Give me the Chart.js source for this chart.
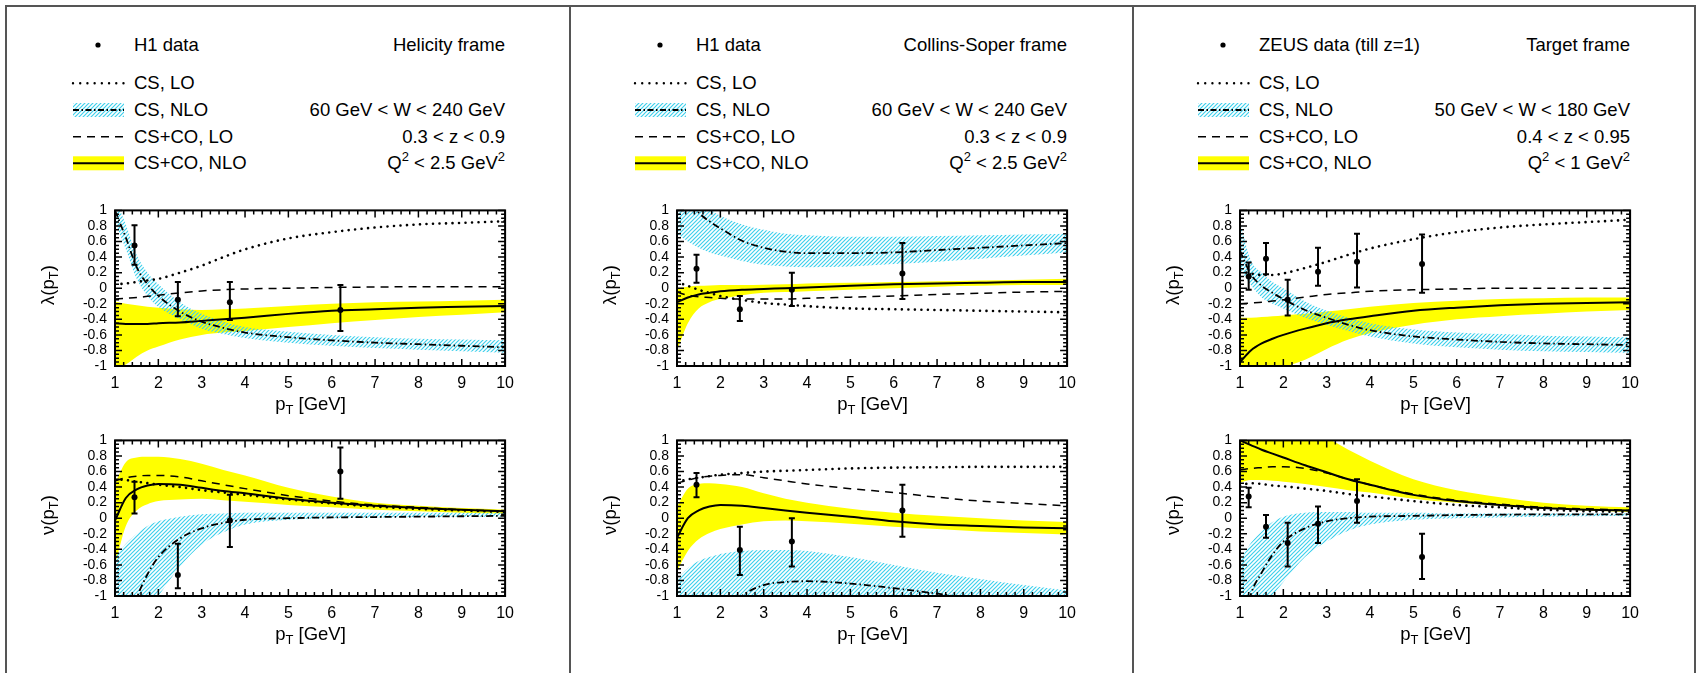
<!DOCTYPE html>
<html>
<head>
<meta charset="utf-8">
<script src="https://cdn.jsdelivr.net/npm/chart.js@4.4.1/dist/chart.umd.min.js"></script>
<style>
body { margin:0; background:#fff; width:1697px; height:673px; overflow:hidden; position:relative; font-family:"Liberation Sans", Arial, sans-serif; color:#000; }
.line { position:absolute; background:#555; }
.txt { position:absolute; font-size:18.5px; white-space:nowrap; line-height:1; transform:translateY(-50%); }
.rt { transform:translate(-100%,-50%); }
.ctr { transform:translate(-50%,-50%); }
.ylab { transform:translate(-50%,-50%) rotate(-90deg); }
sub { font-size:70%; vertical-align:-0.35em; line-height:0; }
sup { font-size:70%; vertical-align:0.6em; line-height:0; }
canvas, svg { position:absolute; }
</style>
</head>
<body>
<script>
// pT grid shared by all theory curves
const pt = [1, 1.25, 1.5, 1.75, 2, 2.5, 3, 3.5, 4, 5, 6, 7, 8, 9, 10];
const xTicks = [1, 2, 3, 4, 5, 6, 7, 8, 9, 10];
const yTicks = [-1, -0.8, -0.6, -0.4, -0.2, 0, 0.2, 0.4, 0.6, 0.8, 1];

// ---- Helicity frame (H1) ----
const hLamCsLo    = [0.05, 0.06, 0.08, 0.1, 0.12, 0.2, 0.29, 0.4, 0.5, 0.64, 0.72, 0.78, 0.82, 0.84, 0.86];
const hLamCsNlo   = [1.0, 0.65, 0.27, 0.05, -0.1, -0.3, -0.43, -0.51, -0.57, -0.63, -0.67, -0.7, -0.72, -0.74, -0.76];
const hLamCsNloHi = [1.15, 0.82, 0.43, 0.2, 0.05, -0.18, -0.33, -0.43, -0.5, -0.56, -0.6, -0.63, -0.65, -0.66, -0.67];
const hLamCsNloLo = [0.85, 0.5, 0.12, -0.1, -0.24, -0.4, -0.52, -0.59, -0.64, -0.7, -0.74, -0.77, -0.79, -0.81, -0.83];
const hLamCoLo    = [-0.14, -0.13, -0.12, -0.105, -0.09, -0.06, -0.035, -0.02, -0.01, 0.0, 0.01, 0.015, 0.02, 0.02, 0.02];
const hLamCoNlo   = [-0.45, -0.46, -0.46, -0.46, -0.45, -0.44, -0.42, -0.4, -0.38, -0.33, -0.29, -0.27, -0.25, -0.24, -0.23];
const hLamCoNloHi = [-0.17, -0.2, -0.22, -0.24, -0.25, -0.27, -0.28, -0.27, -0.26, -0.23, -0.2, -0.18, -0.17, -0.16, -0.15];
const hLamCoNloLo = [-1.05, -0.98, -0.88, -0.8, -0.75, -0.66, -0.6, -0.57, -0.55, -0.5, -0.45, -0.41, -0.37, -0.34, -0.31];
const hNuCsLo     = [0.5, 0.49, 0.47, 0.45, 0.43, 0.4, 0.36, 0.33, 0.3, 0.24, 0.19, 0.15, 0.12, 0.1, 0.08];
const hNuCsNlo    = [-2.2, -1.5, -1.03, -0.72, -0.5, -0.26, -0.13, -0.06, -0.02, 0.0, 0.01, 0.015, 0.02, 0.025, 0.03];
const hNuCsNloHi  = [-0.5, -0.33, -0.2, -0.1, -0.04, 0.02, 0.05, 0.06, 0.07, 0.07, 0.07, 0.07, 0.07, 0.07, 0.07];
const hNuCsNloLo  = [-3, -2, -1.5, -1.2, -1.0, -0.62, -0.34, -0.18, -0.08, -0.02, 0.0, 0.01, 0.015, 0.02, 0.02];
const hNuCoLo     = [0.48, 0.52, 0.54, 0.55, 0.55, 0.53, 0.48, 0.43, 0.38, 0.29, 0.22, 0.17, 0.14, 0.11, 0.09];
const hNuCoNlo    = [-0.03, 0.26, 0.37, 0.42, 0.44, 0.43, 0.39, 0.35, 0.32, 0.25, 0.2, 0.16, 0.13, 0.11, 0.09];
const hNuCoNloHi  = [0.45, 0.72, 0.78, 0.79, 0.79, 0.76, 0.7, 0.62, 0.55, 0.39, 0.28, 0.2, 0.16, 0.13, 0.11];
const hNuCoNloLo  = [-0.6, -0.1, 0.1, 0.18, 0.22, 0.24, 0.25, 0.23, 0.21, 0.17, 0.14, 0.11, 0.09, 0.07, 0.06];
const hDataPt     = [1.45, 2.45, 3.65, 6.2];
const hLamData    = [0.55, -0.15, -0.18, -0.28];
const hLamErrLo   = [0.3, -0.36, -0.41, -0.55];
const hLamErrHi   = [0.81, 0.08, 0.08, 0.04];
const hNuData     = [0.27, -0.73, -0.03, 0.6];
const hNuErrLo    = [0.06, -0.9, -0.37, 0.25];
const hNuErrHi    = [0.47, -0.33, 0.3, 0.91];

// ---- Collins-Soper frame (H1) ----
const cLamCsLo    = [0.08, 0.03, -0.02, -0.06, -0.1, -0.15, -0.19, -0.21, -0.23, -0.26, -0.27, -0.28, -0.29, -0.3, -0.31];
const cLamCsNlo   = [1.4, 1.15, 0.97, 0.86, 0.77, 0.61, 0.52, 0.47, 0.45, 0.45, 0.46, 0.49, 0.52, 0.55, 0.58];
const cLamCsNloHi = [1.6, 1.35, 1.15, 1.02, 0.93, 0.82, 0.75, 0.7, 0.68, 0.66, 0.66, 0.67, 0.68, 0.69, 0.7];
const cLamCsNloLo = [0.7, 0.6, 0.52, 0.46, 0.42, 0.35, 0.3, 0.28, 0.27, 0.28, 0.31, 0.34, 0.38, 0.42, 0.46];
const cLamCoLo    = [-0.05, -0.09, -0.11, -0.12, -0.13, -0.14, -0.14, -0.14, -0.13, -0.115, -0.1, -0.08, -0.065, -0.05, -0.04];
const cLamCoNlo   = [-0.18, -0.12, -0.08, -0.06, -0.04, -0.02, -0.01, 0.0, 0.01, 0.03, 0.05, 0.06, 0.07, 0.08, 0.08];
const cLamCoNloHi = [0.0, 0.02, 0.03, 0.035, 0.04, 0.04, 0.045, 0.05, 0.06, 0.07, 0.08, 0.09, 0.1, 0.11, 0.12];
const cLamCoNloLo = [-0.8, -0.45, -0.26, -0.18, -0.14, -0.09, -0.06, -0.05, -0.04, -0.02, 0.0, 0.02, 0.03, 0.04, 0.04];
const cNuCsLo     = [0.47, 0.5, 0.52, 0.54, 0.56, 0.58, 0.6, 0.61, 0.62, 0.64, 0.65, 0.655, 0.66, 0.66, 0.66];
const cNuCsNlo    = [-2.5, -2.0, -1.7, -1.5, -1.3, -1.0, -0.86, -0.82, -0.81, -0.84, -0.9, -0.97, -1.05, -1.12, -1.2];
const cNuCsNloHi  = [-0.78, -0.64, -0.55, -0.5, -0.46, -0.42, -0.41, -0.41, -0.42, -0.5, -0.6, -0.7, -0.78, -0.86, -0.93];
const cNuCsNloLo  = [-3, -3, -3, -3, -3, -2.5, -2.2, -2, -2, -2, -2, -2, -2, -2, -2];
const cNuCoLo     = [0.45, 0.49, 0.52, 0.54, 0.55, 0.56, 0.52, 0.48, 0.44, 0.38, 0.33, 0.27, 0.22, 0.19, 0.16];
const cNuCoNlo    = [-0.25, 0.0, 0.1, 0.15, 0.17, 0.16, 0.13, 0.1, 0.07, 0.02, -0.04, -0.08, -0.1, -0.12, -0.13];
const cNuCoNloHi  = [0.15, 0.38, 0.44, 0.45, 0.44, 0.4, 0.32, 0.25, 0.2, 0.12, 0.07, 0.03, 0.0, -0.03, -0.05];
const cNuCoNloLo  = [-0.68, -0.42, -0.27, -0.19, -0.14, -0.08, -0.04, -0.03, -0.04, -0.07, -0.11, -0.14, -0.17, -0.19, -0.21];
const cDataPt     = [1.45, 2.45, 3.65, 6.2];
const cLamData    = [0.25, -0.27, -0.02, 0.19];
const cLamErrLo   = [0.07, -0.42, -0.23, -0.14];
const cLamErrHi   = [0.43, -0.1, 0.2, 0.58];
const cNuData     = [0.43, -0.41, -0.3, 0.1];
const cNuErrLo    = [0.27, -0.73, -0.62, -0.24];
const cNuErrHi    = [0.58, -0.11, 0.0, 0.43];

// ---- Target frame (ZEUS) ----
const tLamCsLo    = [0.22, 0.19, 0.17, 0.17, 0.19, 0.26, 0.34, 0.43, 0.51, 0.63, 0.72, 0.78, 0.82, 0.85, 0.88];
const tLamCsNlo   = [0.48, 0.18, 0.03, -0.06, -0.14, -0.28, -0.38, -0.47, -0.54, -0.62, -0.66, -0.69, -0.71, -0.72, -0.73];
const tLamCsNloHi = [0.85, 0.36, 0.2, 0.08, 0.0, -0.17, -0.29, -0.38, -0.45, -0.53, -0.57, -0.59, -0.61, -0.62, -0.63];
const tLamCsNloLo = [0.25, 0.04, -0.12, -0.2, -0.26, -0.38, -0.47, -0.55, -0.62, -0.71, -0.76, -0.79, -0.81, -0.82, -0.83];
const tLamCoLo    = [-0.2, -0.19, -0.18, -0.165, -0.15, -0.115, -0.08, -0.06, -0.04, -0.02, -0.01, 0.0, 0.0, 0.0, 0.0];
const tLamCoNlo   = [-0.95, -0.8, -0.71, -0.65, -0.6, -0.52, -0.45, -0.4, -0.36, -0.29, -0.25, -0.22, -0.2, -0.19, -0.18];
const tLamCoNloHi = [-0.38, -0.38, -0.37, -0.36, -0.35, -0.33, -0.3, -0.27, -0.24, -0.19, -0.16, -0.14, -0.13, -0.12, -0.12];
const tLamCoNloLo = [-1.3, -1.25, -1.15, -1.08, -1.02, -0.92, -0.78, -0.66, -0.58, -0.47, -0.4, -0.36, -0.33, -0.3, -0.28];
const tNuCsLo     = [0.42, 0.45, 0.44, 0.42, 0.41, 0.38, 0.35, 0.31, 0.28, 0.22, 0.17, 0.14, 0.11, 0.09, 0.08];
const tNuCsNlo    = [-1.6, -0.98, -0.7, -0.47, -0.3, -0.13, -0.04, 0.0, 0.02, 0.03, 0.04, 0.045, 0.05, 0.05, 0.05];
const tNuCsNloHi  = [-0.55, -0.32, -0.17, -0.05, 0.02, 0.07, 0.08, 0.08, 0.07, 0.07, 0.06, 0.06, 0.06, 0.06, 0.06];
const tNuCsNloLo  = [-2.5, -1.6, -1.2, -1.0, -0.82, -0.5, -0.3, -0.16, -0.08, -0.02, 0.0, 0.01, 0.02, 0.025, 0.03];
const tNuCoLo     = [0.62, 0.64, 0.65, 0.66, 0.66, 0.64, 0.58, 0.5, 0.43, 0.31, 0.23, 0.18, 0.14, 0.12, 0.1];
const tNuCoNlo    = [1.0, 0.94, 0.88, 0.83, 0.78, 0.68, 0.59, 0.5, 0.43, 0.3, 0.22, 0.17, 0.13, 0.11, 0.1];
const tNuCoNloHi  = [1.4, 1.35, 1.3, 1.25, 1.2, 1.12, 1.03, 0.88, 0.74, 0.5, 0.36, 0.27, 0.2, 0.16, 0.14];
const tNuCoNloLo  = [0.46, 0.49, 0.49, 0.48, 0.47, 0.44, 0.4, 0.36, 0.33, 0.25, 0.2, 0.16, 0.12, 0.1, 0.08];
const tDataPt     = [1.2, 1.6, 2.1, 2.8, 3.7, 5.2];
const tLamData    = [0.15, 0.38, -0.15, 0.21, 0.34, 0.31];
const tLamErrLo   = [-0.02, 0.18, -0.35, 0.03, 0.01, -0.06];
const tLamErrHi   = [0.33, 0.58, 0.11, 0.52, 0.7, 0.69];
const tNuData     = [0.28, -0.11, -0.32, -0.07, 0.22, -0.5];
const tNuErrLo    = [0.14, -0.25, -0.62, -0.32, -0.06, -0.78];
const tNuErrHi    = [0.39, 0.04, -0.06, 0.15, 0.5, -0.2];

const legendLabels = ['CS, LO', 'CS, NLO', 'CS+CO, LO', 'CS+CO, NLO'];

const panels = [
  { off: 0, dataName: 'H1 data', frame: 'Helicity frame',
    cuts: ['60 GeV &lt; W &lt; 240 GeV', '0.3 &lt; z &lt; 0.9', 'Q<sup>2</sup> &lt; 2.5 GeV<sup>2</sup>'],
    lam: [hLamCsLo, hLamCsNlo, hLamCsNloHi, hLamCsNloLo, hLamCoLo, hLamCoNlo, hLamCoNloHi, hLamCoNloLo, hDataPt, hLamData, hLamErrLo, hLamErrHi],
    nu:  [hNuCsLo, hNuCsNlo, hNuCsNloHi, hNuCsNloLo, hNuCoLo, hNuCoNlo, hNuCoNloHi, hNuCoNloLo, hDataPt, hNuData, hNuErrLo, hNuErrHi] },
  { off: 562, dataName: 'H1 data', frame: 'Collins-Soper frame',
    cuts: ['60 GeV &lt; W &lt; 240 GeV', '0.3 &lt; z &lt; 0.9', 'Q<sup>2</sup> &lt; 2.5 GeV<sup>2</sup>'],
    lam: [cLamCsLo, cLamCsNlo, cLamCsNloHi, cLamCsNloLo, cLamCoLo, cLamCoNlo, cLamCoNloHi, cLamCoNloLo, cDataPt, cLamData, cLamErrLo, cLamErrHi],
    nu:  [cNuCsLo, cNuCsNlo, cNuCsNloHi, cNuCsNloLo, cNuCoLo, cNuCoNlo, cNuCoNloHi, cNuCoNloLo, cDataPt, cNuData, cNuErrLo, cNuErrHi] },
  { off: 1125, dataName: 'ZEUS data (till z=1)', frame: 'Target frame',
    cuts: ['50 GeV &lt; W &lt; 180 GeV', '0.4 &lt; z &lt; 0.95', 'Q<sup>2</sup> &lt; 1 GeV<sup>2</sup>'],
    lam: [tLamCsLo, tLamCsNlo, tLamCsNloHi, tLamCsNloLo, tLamCoLo, tLamCoNlo, tLamCoNloHi, tLamCoNloLo, tDataPt, tLamData, tLamErrLo, tLamErrHi],
    nu:  [tNuCsLo, tNuCsNlo, tNuCsNloHi, tNuCsNloLo, tNuCoLo, tNuCoNlo, tNuCoNloHi, tNuCoNloLo, tDataPt, tNuData, tNuErrLo, tNuErrHi] }
];

const FONT = '"Liberation Sans", Arial, sans-serif';
const YELLOW = '#ffff00';
const HATCH = '#40d0ec';
const PLOT_L = 115, PLOT_W = 391, PLOT_H = 162;
const LAM_TOP = 204, NU_TOP = 434;
const AX_W = 62, AX_H = 34, PAD_T = 10, PAD_R = 16;
const ROWS = [45, 83.3, 110, 136.7, 163.3];

function makeHatch() {
  const c = document.createElement('canvas');
  c.width = 4; c.height = 4;
  const g = c.getContext('2d');
  g.strokeStyle = HATCH;
  g.lineWidth = 1.2;
  g.beginPath();
  g.moveTo(-1, 1); g.lineTo(1, -1);
  g.moveTo(0, 4); g.lineTo(4, 0);
  g.moveTo(3, 5); g.lineTo(5, 3);
  g.stroke();
  return g.createPattern(c, 'repeat');
}

function addDiv(cls, html, x, y) {
  const d = document.createElement('div');
  d.className = cls;
  d.innerHTML = html;
  d.style.left = x + 'px';
  d.style.top = y + 'px';
  document.body.appendChild(d);
  return d;
}

// inward ticks on all four sides, the frame and the error bars
const frameTicks = {
  id: 'frameTicks',
  afterDatasetsDraw(chart, args, opts) {
    const { ctx, chartArea: a, scales: { x, y } } = chart;
    ctx.save();
    ctx.strokeStyle = '#000';
    ctx.lineWidth = 2;
    ctx.beginPath();
    opts.px.forEach((v, i) => {
      const px = x.getPixelForValue(v);
      const p1 = y.getPixelForValue(opts.lo[i]);
      const p2 = y.getPixelForValue(opts.hi[i]);
      ctx.moveTo(px, p1); ctx.lineTo(px, p2);
      ctx.moveTo(px - 3, p1); ctx.lineTo(px + 3, p1);
      ctx.moveTo(px - 3, p2); ctx.lineTo(px + 3, p2);
    });
    ctx.stroke();

    ctx.lineWidth = 1.5;
    ctx.beginPath();
    for (let i = 0; i <= 45; i++) {
      const px = x.getPixelForValue(1 + i * 0.2);
      const len = i % 5 === 0 ? 7 : 4;
      ctx.moveTo(px, a.bottom); ctx.lineTo(px, a.bottom - len);
      ctx.moveTo(px, a.top); ctx.lineTo(px, a.top + len);
    }
    for (let i = 0; i <= 40; i++) {
      const py = y.getPixelForValue(-1 + i * 0.05);
      const len = i % 4 === 0 ? 7 : 4;
      ctx.moveTo(a.left, py); ctx.lineTo(a.left + len, py);
      ctx.moveTo(a.right, py); ctx.lineTo(a.right - len, py);
    }
    ctx.stroke();
    ctx.lineWidth = 2;
    ctx.strokeRect(a.left, a.top, a.width, a.height);
    ctx.restore();
  }
};

function xy(xs, ys) {
  return xs.map((v, i) => ({ x: v, y: ys[i] }));
}

function curve(ys, style) {
  return Object.assign({
    data: xy(pt, ys), pointRadius: 0, borderColor: '#000', fill: false,
    cubicInterpolationMode: 'monotone'
  }, style);
}

function makePlot(off, top, s, hatch) {
  const cv = document.createElement('canvas');
  const w = AX_W + PLOT_W + PAD_R, h = PAD_T + PLOT_H + AX_H;
  cv.width = w; cv.height = h;
  cv.style.left = (off + PLOT_L - AX_W) + 'px';
  cv.style.top = (top - PAD_T) + 'px';
  document.body.appendChild(cv);

  new Chart(cv.getContext('2d'), {
    type: 'line',
    data: {
      datasets: [
        curve(s[6], { borderWidth: 0, backgroundColor: YELLOW, fill: { target: 1 }, order: 10 }),
        curve(s[7], { borderWidth: 0, order: 10 }),
        curve(s[2], { borderWidth: 0, backgroundColor: hatch, fill: { target: 3 }, order: 9 }),
        curve(s[3], { borderWidth: 0, order: 9 }),
        curve(s[0], { borderWidth: 2.6, borderDash: [0.01, 6.5], borderCapStyle: 'round', order: 4 }),
        curve(s[1], { borderWidth: 1.8, borderDash: [7, 3, 1.5, 3], order: 3 }),
        curve(s[4], { borderWidth: 1.5, borderDash: [8, 6], order: 2 }),
        curve(s[5], { borderWidth: 2, order: 1 }),
        { data: xy(s[8], s[9]), showLine: false, pointRadius: 3, pointBorderWidth: 0,
          pointBackgroundColor: '#000', order: 0 }
      ]
    },
    options: {
      animation: false, responsive: false, maintainAspectRatio: false,
      events: [],
      layout: { padding: { top: PAD_T, right: PAD_R, left: 0, bottom: 0 } },
      plugins: {
        legend: { display: false }, tooltip: { enabled: false },
        frameTicks: { px: s[8], lo: s[10], hi: s[11] }
      },
      scales: {
        x: {
          type: 'linear', min: 1, max: 10,
          grid: { display: false, drawTicks: false }, border: { display: false },
          afterBuildTicks: sc => { sc.ticks = xTicks.map(v => ({ value: v })); },
          afterFit: sc => { sc.height = AX_H; },
          ticks: { font: { family: FONT, size: 16 }, color: '#000', padding: 8, maxRotation: 0, autoSkip: false }
        },
        y: {
          type: 'linear', min: -1, max: 1,
          grid: { display: false, drawTicks: false }, border: { display: false },
          afterBuildTicks: sc => { sc.ticks = yTicks.map(v => ({ value: v })); },
          afterFit: sc => { sc.width = AX_W; },
          ticks: { font: { family: FONT, size: 14 }, color: '#000', padding: 8, autoSkip: false,
                   callback: v => String(Math.round(v * 10) / 10) }
        }
      }
    },
    plugins: [frameTicks]
  });
}

function makeLegend(p, idx) {
  const ns = 'http://www.w3.org/2000/svg';
  const svg = document.createElementNS(ns, 'svg');
  svg.setAttribute('width', 140); svg.setAttribute('height', 190);
  svg.style.left = p.off + 'px'; svg.style.top = '0px';
  const x1 = 73, x2 = 124, id = 'hatch' + idx;
  svg.innerHTML =
    `<defs><pattern id="${id}" width="4" height="4" patternUnits="userSpaceOnUse">` +
    `<path d="M-1,1 L1,-1 M0,4 L4,0 M3,5 L5,3" stroke="${HATCH}" stroke-width="1.2"/></pattern></defs>` +
    `<circle cx="98" cy="${ROWS[0]}" r="2.6" fill="#000"/>` +
    `<line x1="${x1}" x2="${x2}" y1="${ROWS[1]}" y2="${ROWS[1]}" stroke="#000" stroke-width="2.4" stroke-dasharray="0.01 7.2" stroke-linecap="round"/>` +
    `<rect x="${x1}" y="${ROWS[2] - 7}" width="${x2 - x1}" height="14" fill="url(#${id})"/>` +
    `<line x1="${x1}" x2="${x2}" y1="${ROWS[2]}" y2="${ROWS[2]}" stroke="#000" stroke-width="1.8" stroke-dasharray="6 2.5 1.5 2.5"/>` +
    `<line x1="${x1}" x2="${x2}" y1="${ROWS[3]}" y2="${ROWS[3]}" stroke="#000" stroke-width="1.5" stroke-dasharray="8 6"/>` +
    `<rect x="${x1}" y="${ROWS[4] - 7}" width="${x2 - x1}" height="14" fill="${YELLOW}"/>` +
    `<line x1="${x1}" x2="${x2}" y1="${ROWS[4]}" y2="${ROWS[4]}" stroke="#000" stroke-width="2"/>`;
  document.body.appendChild(svg);

  addDiv('txt', p.dataName, p.off + 134, ROWS[0]);
  legendLabels.forEach((t, i) => addDiv('txt', t, p.off + 134, ROWS[i + 1]));
  addDiv('txt rt', p.frame, p.off + 505, ROWS[0]);
  p.cuts.forEach((t, i) => addDiv('txt rt', t, p.off + 505, ROWS[i + 2]));
}

// outer frame and panel dividers
[[5, 5, 1690, 1.5], [5, 5, 1.5, 700], [569, 5, 1.5, 700], [1132, 5, 1.5, 700], [1694, 5, 1.5, 700]].forEach(r => {
  const d = document.createElement('div');
  d.className = 'line';
  d.style.left = r[0] + 'px'; d.style.top = r[1] + 'px';
  d.style.width = r[2] + 'px'; d.style.height = r[3] + 'px';
  document.body.appendChild(d);
});

const hatch = makeHatch();
panels.forEach((p, i) => {
  makeLegend(p, i);
  makePlot(p.off, LAM_TOP, p.lam, hatch);
  makePlot(p.off, NU_TOP, p.nu, hatch);
  [[LAM_TOP, '&lambda;(p<sub>T</sub>)'], [NU_TOP, '&nu;(p<sub>T</sub>)']].forEach(([top, lab]) => {
    addDiv('txt ylab', lab, p.off + 48, top + PLOT_H / 2);
    addDiv('txt ctr', 'p<sub>T</sub> [GeV]', p.off + PLOT_L + PLOT_W / 2, top + PLOT_H + 37.5);
  });
});
</script>
</body>
</html>
